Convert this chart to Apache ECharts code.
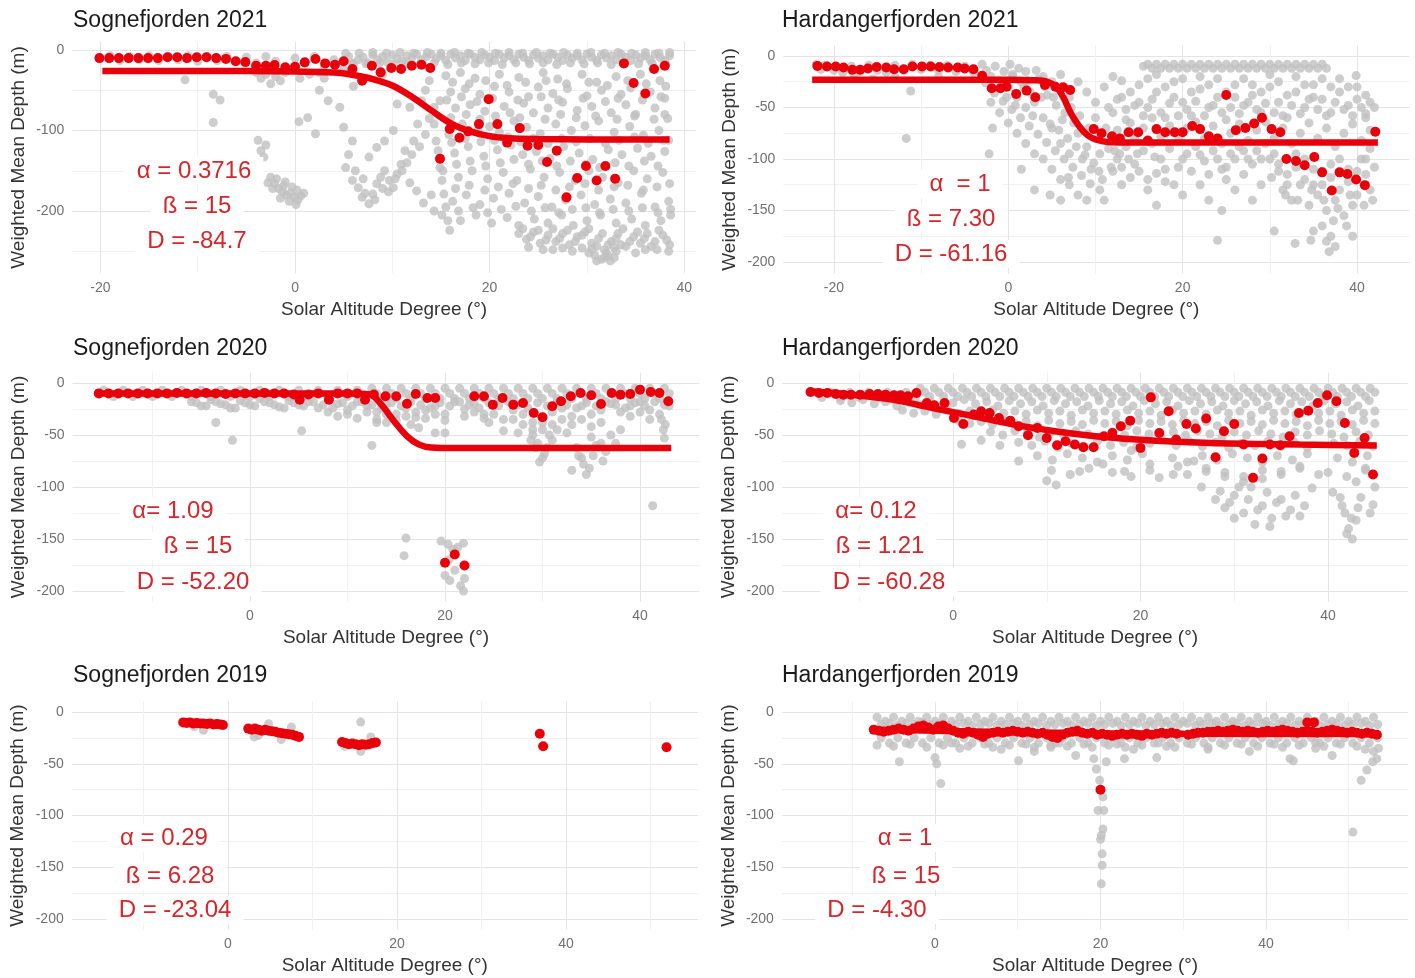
<!DOCTYPE html>
<html>
<head>
<meta charset="utf-8">
<script src="https://cdn.jsdelivr.net/npm/echarts@6/dist/echarts.min.js"></script>
<style>
html,body{margin:0;padding:0;background:#fff;}
#chart{width:1415px;height:978px;}
</style>
</head>
<body>
<div id="chart"></div>
<script>
// ---------- Panel titles and fitted parameters ----------
const panelTitles = ['Sognefjorden 2021', 'Hardangerfjorden 2021', 'Sognefjorden 2020',
                     'Hardangerfjorden 2020', 'Sognefjorden 2019', 'Hardangerfjorden 2019'];
const paramTexts = [
  ['α = 0.3716', 'ß = 15', 'D = -84.7'],
  ['α  = 1', 'ß = 7.30', 'D = -61.16'],
  ['α= 1.09', 'ß = 15', 'D = -52.20'],
  ['α= 0.12', 'ß = 1.21', 'D = -60.28'],
  ['α = 0.29', 'ß = 6.28', 'D = -23.04'],
  ['α = 1', 'ß = 15', 'D = -4.30']
];

// ---------- Tick values ----------
const xTicksWide = [-20, 0, 20, 40];
const xMinorWide = [-10, 10, 30];
const xTicksShort = [0, 20, 40];
const xMinorShort = [-10, 10, 30];
const xMinorLong = [-10, 10, 30, 50];
const yTicksDeep = [0, -100, -200];
const yMinorDeep = [-50, -150, -250];
const yTicksStd = [0, -50, -100, -150, -200];
const yMinorStd = [-25, -75, -125, -175];

// ---------- Sognefjorden 2021 ----------
const sogne21Grey = [
  [-19,-7],[-18,-13],[-17,-8],[-16,-12],[-15,-7],[-14,-13],[-13,-8],[-12,-12],[-11,-7],[-10,-14],[-9,-8],[-8,-13],[-7,-8],[-6,-14],[-5,-9],[-4,-16],[-3,-8],[-2,-14],[-1,-22],[0,-10],[1,-16],[2,-8],[3,-20],[4,-12],[5,-24],
  [5.5,-8],[6,-18],[6.5,-12],[7,-9],[7.5,-16],[8,-6],[8.5,-12],[9,-8],[9.5,-15],[10,-6],[10.5,-11],[11,-14],[11.5,-7],[12,-10],[12.5,-5],[13,-12],[13.5,-8],[14,-5],[14.5,-11],[15,-7],[15.5,-13],[16,-5],[16.5,-10],[17,-7],[17.5,-13],[18,-5],[18.5,-9],[19,-12],[19.5,-6],[20,-9],[20.5,-13],[21,-5],[21.5,-10],[22,-7],[22.5,-12],[23,-5],[23.5,-9],[24,-13],[24.5,-6],[25,-10],[25.5,-7],[26,-12],[26.5,-5],[27,-9],[27.5,-13],[28,-6],[28.5,-10],[29,-7],[29.5,-12],[30,-5],[30.5,-9],[31,-13],[31.5,-6],[32,-10],[32.5,-7],[33,-12],[33.5,-5],[34,-9],[34.5,-13],[35,-6],[35.5,-10],[36,-7],[36.5,-12],[37,-5],[37.5,-9],[38,-13],[38.5,-7],
  [5.2,-4],[6.6,-4],[8,-3],[9.4,-4],[10.8,-3],[12.2,-4],[13.6,-3],[15,-4],[16.4,-3],[17.8,-4],[19.2,-3],[20.6,-4],[22,-3],[23.4,-4],[24.8,-3],[26.2,-4],[27.6,-3],[29,-4],[30.4,-3],[31.8,-4],[33.2,-3],[34.6,-4],[36,-3],[37.4,-4],[38.5,-3],
  [5.9,-16],[7.3,-17],[8.7,-16],[10.1,-18],[11.5,-16],[12.9,-17],[14.3,-16],[15.7,-18],[17.1,-16],[18.5,-17],[19.9,-16],[21.3,-18],[22.7,-16],[24.1,-17],[25.5,-16],[26.9,-18],[28.3,-16],[29.7,-17],[31.1,-16],[32.5,-18],[33.9,-16],[35.3,-17],[36.7,-16],[38.1,-18],
  [-4,-28],[-3.5,-35],[-3,-30],[-2.5,-42],[-2,-33],[-1.5,-38],[-1,-28],[0.5,-35],[1.5,-30],[2.5,-28],
  [-11.3,-37],[-8.4,-55],[-8.4,-90],[-7.7,-62],[-3.8,-112],[-3.5,-125],[-3.2,-133],[-3,-118],[-2.5,-158],[-2.1,-166],[-1.7,-172],[-1.3,-176],[-0.9,-180],[-0.5,-178],[-0.1,-183],[0.3,-186],[0.6,-181],[-2.3,-172],[-1.2,-169],
  [-2.8,-165],[-1.9,-160],[-1,-164],[-0.3,-170],[0.2,-174],[0.9,-178],[-1.5,-184],[-0.6,-188],[0.1,-192],
  [0.4,-89],[1.3,-84],[2.1,-104],[2.5,-50],[3.4,-63],[4.6,-71],[5,-96],[5.9,-113],[5.2,-146],[5.9,-162],[6.5,-171],[6.9,-183],[7.6,-191],[8,-179],[8.4,-166],[8.8,-158],[9.2,-150],[9.7,-162],[10.1,-171],[10.5,-154],[10.9,-142],[7.6,-133],[8.4,-121],[9.2,-113],[10.1,-100],[11.3,-125],[12.2,-113],[12.6,-92],[11.8,-71],[10.5,-67],[13,-63],[13.4,-50],[13.8,-38],[3,-35],[6,-45],[9,-30],
  [5.5,-130],[6.2,-150],[7,-160],[7.2,-178],[8.2,-186],[9,-172],[9.6,-176],[10.3,-160],[11,-150],[11.5,-140],[12,-130],[12.8,-120],[13.4,-105],[13.8,-85],[14,-180],[13.2,-190],[12.5,-175],[11.8,-165],
  [14.3,-92],[14.5,-113],[14.7,-125],[14.9,-146],[15.1,-162],[15.3,-179],[15.5,-195],[15.7,-212],[15.9,-224],[14.3,-71],[14.9,-63],[14.3,-200],[15.1,-205],
  [15.5,-32],[17,-28],[18.5,-35],[21,-30],[23,-34],[25.5,-28],[27,-36],[29.5,-30],[31,-40],[33,-33],[35.5,-30],[37.5,-38],
  [16.2,-40],[17.9,-42],[19.6,-38],[21.8,-44],[23.7,-40],[25.8,-38],[27.9,-42],[30.2,-40],[32.1,-44],[34.2,-38],[36.1,-42],[38.1,-45],
  [16,-52],[17.5,-48],[19,-55],[20.5,-45],[22,-52],[24,-58],[25,-46],[26.5,-54],[28,-48],[30,-57],[31.5,-50],[33.5,-55],[34.5,-47],[36.5,-52],[38,-60],
  [15.6,-62],[17.1,-58],[18.7,-64],[20.3,-60],[22.9,-62],[25.3,-58],[27.1,-62],[29.6,-60],[31.9,-64],[33.2,-60],[35.7,-62],[37.6,-58],
  [16.5,-72],[18,-68],[19.5,-76],[21.5,-70],[23.5,-66],[24.5,-78],[26,-72],[27.5,-65],[29,-75],[30.5,-70],[32.5,-78],[34,-68],[35,-80],[37,-72],[38.3,-85],
  [16,-84],[17.6,-80],[19,-86],[20.6,-82],[22.1,-78],[23.1,-84],[25.7,-86],[27.3,-80],[28.9,-84],[30.9,-82],[33.1,-86],[34.9,-82],[36.9,-86],[38,-80],
  [15.8,-105],[17.2,-92],[18.8,-100],[20,-95],[21,-102],[22.5,-88],[23.8,-96],[25.2,-104],[26.8,-92],[28.4,-100],[29.8,-94],[31.2,-88],[32.8,-102],[34.4,-95],[35.8,-106],[37.4,-100],[38.4,-112],
  [16.1,-115],[17.5,-110],[19.1,-114],[20.5,-112],[21.9,-108],[23.2,-114],[24.5,-110],[26,-116],[27.4,-110],[28.9,-114],[30.3,-110],[31.9,-116],[33.3,-112],[34.9,-108],[36.3,-116],[37.9,-112],
  [16.4,-128],[17.8,-120],[19.4,-132],[20.8,-124],[22.2,-118],[23.4,-130],[24.8,-126],[26.2,-135],[27.6,-120],[29.2,-128],[30.6,-136],[32.2,-124],[33.6,-130],[35.2,-122],[36.6,-132],[38,-126],
  [16.6,-142],[18,-138],[19.6,-144],[21.1,-140],[22.5,-136],[24,-142],[25.4,-138],[26.9,-144],[28.3,-138],[29.9,-142],[31.3,-146],[32.9,-140],[34.3,-144],[35.9,-138],[37.3,-144],
  [15.2,-150],[16.8,-158],[18.2,-150],[19.8,-160],[21.4,-152],[22.8,-162],[24.2,-148],[25.6,-158],[27.2,-152],[28.8,-162],[30.2,-150],[31.6,-158],[33.2,-165],[34.8,-150],[36.2,-160],[37.8,-152],
  [16.5,-172],[17.9,-168],[19.5,-174],[20.9,-170],[22.4,-166],[24,-172],[25.3,-168],[26.8,-174],[28.2,-170],[29.8,-166],[31.2,-174],[32.8,-170],[34.2,-168],[35.8,-174],[37.2,-170],[38.5,-166],
  [16.2,-188],[17.6,-180],[19,-192],[20.4,-184],[22,-178],[23.6,-190],[25,-182],[26.4,-195],[27.8,-186],[29.4,-180],[30.8,-192],[32.4,-185],[34,-190],[35.6,-178],[37,-195],[38.4,-188],
  [16.8,-200],[18.3,-196],[19.8,-202],[21.2,-198],[22.7,-194],[24.3,-200],[25.7,-196],[27.1,-202],[28.5,-198],[29.9,-196],[31.3,-202],[32.7,-198],[34.3,-200],[35.7,-196],[37.3,-202],[38.6,-198],
  [17,-212],[18.6,-205],[20.2,-215],[21.8,-208],[23,-218],[24.6,-210],[26,-215],[27.4,-205],[28.6,-218],[30,-212],[31.4,-205],[33,-215],[34.6,-210],[36,-218],[37.6,-212],[38.6,-205],
  [23,-228],[23.8,-235],[24.5,-226],[25.2,-240],[26,-230],[26.8,-238],[27.5,-228],[28.2,-242],[29,-232],[29.8,-226],[30.5,-240],[31.2,-234],[31.8,-248],[32.5,-238],[33.2,-228],[34,-244],[34.8,-232],[35.5,-240],[36.2,-228],[37,-238],[37.8,-230],[38.5,-242],[24,-245],[26.5,-248],[28.5,-250],[30.8,-255],[31.5,-260],[32.2,-256],[33,-250],[35,-252],[37.2,-248],
  [23.4,-222],[24.2,-232],[25,-224],[25.8,-236],[26.5,-222],[27.2,-234],[28,-224],[28.8,-238],[29.5,-230],[30.2,-222],[31,-244],[31.6,-228],[32.2,-242],[33,-234],[33.7,-222],[34.4,-238],[35.2,-226],[35.9,-234],[36.6,-244],[37.4,-224],[38.2,-236],[29.5,-246],[30.2,-252],[32,-252],[32.8,-258],[33.5,-242],[27.5,-246],[25.5,-248],[36,-248],[38.4,-250],
  [30.5,-247],[31,-262],[31.8,-258],[32.4,-262],[32.8,-245]
];
const sogne21Red = [
  [-20.1,-10],[-19.1,-10],[-18.1,-10],[-17.1,-10],[-16.1,-10],[-15.1,-10],[-14.1,-10],[-13.1,-9],[-12.1,-9],[-11.1,-10],[-10.1,-9],[-9.1,-9],[-8.1,-10],[-7.1,-11],
  [-6.1,-14],[-5.1,-15],[-4,-19.5],[-3,-19.5],[-2.1,-18.6],[-1,-21.5],[0,-20.7],[1,-15.3],[2.1,-11.2],[3.1,-16.6],[4.1,-18.2],[5,-14],[5.9,-23.6],[6.9,-38],[7.9,-19.5],[8.8,-27.7],[9.9,-22.4],[10.9,-23.6],[12,-19.5],[13,-18.2],[13.9,-22.4],
  [14.9,-135],[15.9,-98],[16.9,-109],[17.8,-101],[18.9,-92],[19.9,-61],[20.8,-92],[21.8,-115],[23.1,-97],[23.9,-119],[25,-118],[25.9,-139],[26.9,-125],[27.9,-183],[29,-159],[29.9,-144],[31,-162],[31.9,-144],[32.9,-160],[33.8,-16.6],[34.8,-41],[36,-54],[36.9,-23.6],[38,-19.5]
];
const sogne21Fit = [
  [-19.8,-26],[-10,-26],[0,-26.5],[4,-28],[6,-31],[8,-36],[10,-44],[12,-58],[14,-75],[16,-91],[18,-101],[20,-107],[22,-109.5],[25,-110.5],[30,-111],[38.5,-111]
];

// ---------- Hardangerfjorden 2021 ----------
const hard21Grey = [
  [-22,-8],[-21.5,-13],[-21,-9],[-20,-14],[-19,-16],[-18,-10],[-17,-15],[-16,-9],[-15,-14],[-14,-16],[-13,-9],[-12,-14],[-11,-8],[-10,-13],[-9,-9],[-8,-14],[-7,-9],[-6,-15],[-5,-10],[-4,-16],[-17.7,-18],[-11.2,-34],[-11.7,-80],[-15.5,-22],[-13,-20],[-8,-20],
  [-3,-8],[-2.5,-14],[-2,-20],[-1.5,-10],[-1,-24],[-0.5,-15],[0,-30],[0.5,-18],[1,-40],[1.5,-25],[2,-50],[2.5,-35],[3,-45],[3.5,-22],[4,-60],[4.5,-38],[5,-70],[5.5,-48],[6,-85],[6.5,-55],[7,-95],[7.5,-65],[8,-75],[8.5,-100],[9,-88],[9.5,-110],[10,-60],[10.5,-95],
  [-2,-45],[-1,-55],[0,-65],[1,-75],[2,-85],[3,-95],[4,-100],[5,-110],[6,-120],[7,-125],[8,-135],[1.5,-110],[3,-130],[6,-140],[0.5,-20],[2,-15],[4,-20],[6,-18],[8,-25],[9,-35],[10,-45],[5,-25],[7,-40],[-2.2,-95],[-1.8,-70],[9,-140],[10.5,-130],[6.9,-118],[4.8,-135],
  [-2.6,-26],[-1.6,-36],[-0.6,-44],[0.4,-52],[1.4,-60],[2.4,-68],[3.4,-76],[4.4,-84],[5.4,-92],[6.4,-100],[7.4,-108],[8.4,-116],[9.4,-124],[10.4,-112],
  [-0.2,-40],[0.8,-48],[1.8,-30],[2.8,-58],[3.8,-40],[4.8,-66],[5.8,-72],[6.8,-80],[7.8,-88],[8.8,-96],[9.8,-104],[10.8,-120],[11.8,-108],
  [0.2,-8],[1.2,-12],[2.2,-24],[3.2,-14],[4.2,-30],[5.2,-40],[6.2,-62],[7.2,-50],[8.2,-58],[9.2,-70],[10.2,-80],[11.2,-70],[12.2,-92],
  [15.5,-10],[16,-8],[16.5,-12],[17,-8],[17.5,-12],[18,-8],[18.5,-12],[19,-8],[19.5,-12],[20,-8],[20.5,-12],[21,-8],[21.5,-12],[22,-8],[22.5,-12],[23,-8],[23.5,-12],[24,-8],[24.5,-12],[25,-8],[25.5,-12],[26,-8],[26.5,-12],[27,-8],[27.5,-12],[28,-8],[28.5,-12],[29,-8],[29.5,-12],[30,-8],[30.5,-12],[31,-8],[31.5,-12],[32,-8],[32.5,-12],[33,-8],[33.5,-12],[34,-8],[34.5,-12],[35,-8],[35.5,-12],[36,-8],[36.5,-12],
  [12,-20],[13,-24],[14,-35],[15,-45],[16,-22],[17,-18],[18,-30],[19,-40],[20,-22],[21,-35],[22,-20],[23,-28],[24,-22],[25,-35],[26,-40],[27,-22],[28,-28],[29,-35],[30,-18],[31,-25],[32,-38],[33,-20],[34,-28],[35,-40],[36,-22],[37,-30],[38,-22],[39,-30],[40,-42],[41,-38],[42,-50],
  [11,-30],[12,-55],[13,-40],[14,-65],[15,-28],[16,-50],[17,-35],[18,-60],[19,-25],[20,-45],[21,-58],[22,-32],[23,-50],[24,-40],[25,-62],[26,-28],[27,-48],[28,-38],[29,-55],[30,-30],[31,-45],[32,-60],[33,-35],[34,-50],[35,-28],[36,-42],[37,-55],[38,-35],[39,-48],[40,-30],[41,-60],
  [11.5,-50],[12.5,-42],[13.5,-52],[14.5,-48],[15.5,-58],[16.5,-42],[17.5,-55],[18.5,-46],[19.5,-58],[20.5,-52],[21.5,-44],[22.5,-58],[23.5,-48],[24.5,-55],[25.5,-50],[26.5,-56],[27.5,-45],[28.5,-52],[29.5,-46],[30.5,-55],[31.5,-58],[32.5,-48],[33.5,-56],[34.5,-42],[35.5,-52],[36.5,-58],[37.5,-45],[38.5,-52],[39.5,-58],[40.5,-50],[41.5,-45],
  [12.5,-72],[13.5,-62],[14.5,-80],[15.5,-70],[16.5,-60],[17.5,-78],[18.5,-68],[19.5,-82],[20.5,-70],[21.5,-64],[22.5,-80],[23.5,-68],[24.5,-85],[25.5,-75],[26.5,-66],[27.5,-82],[28.5,-72],[29.5,-64],[30.5,-80],[31.5,-70],[32.5,-85],[33.5,-75],[34.5,-65],[35.5,-80],[36.5,-70],[37.5,-88],[38.5,-75],[39.5,-66],[40.5,-82],[41.5,-72],
  [11.5,-90],[12.5,-100],[13.5,-88],[14.5,-105],[15.5,-92],[16.5,-85],[17.5,-100],[18.5,-90],[19.5,-108],[20.5,-95],[21.5,-88],[22.5,-102],[23.5,-92],[24.5,-110],[25.5,-95],[26.5,-88],[27.5,-100],[28.5,-92],[29.5,-85],[30.5,-95],
  [12,-112],[13,-108],[14,-118],[15,-112],[16,-120],[17,-114],[18,-122],[20,-100],[21,-112],[22,-96],[23,-115],[24,-100],[25,-108],[26,-100],[27,-92],[28,-105],[29,-100],[18,-110],[16.8,-98],[14.8,-95],[13.8,-100],[12.8,-95],
  [31,-105],[32,-115],[33,-95],[34,-120],[35,-110],[36,-125],[37,-105],[38,-130],[39,-110],[40,-135],[41,-115],[31.5,-130],[32.5,-140],[33.5,-125],[34.5,-145],[35.5,-135],[36.5,-150],[37.5,-140],[38.5,-155],[39.5,-145],[40.5,-100],[41.5,-90],[41.5,-130],[36,-165],[37,-175],[37.5,-185],[36.5,-180],[35,-170],
  [30,-100],[31,-112],[32,-125],[33,-108],[34,-100],[35,-125],[36,-112],[37,-118],[38,-100],[39,-122],[40,-112],[41,-100],[42,-108],[30.2,-118],[31.8,-135],[33.2,-140],[34.8,-130],[36.2,-140],[37.8,-148],[39.2,-135],[40.8,-145],[41.8,-140],[38.8,-165],[37.3,-160],[39.5,-175],[36.8,-190],
  [24,-179],[30.5,-170],[32.9,-182],[34.7,-179],[22,-125],[23,-140],[24.5,-150],[26,-130],[28,-140],[13,-125],[16,-130],[19,-125],[25,-120],[27,-115],[29,-125],[11,-140],[17,-145],[20,-135],[39.9,-19],[41,-56]
];
const hard21Red = [
  [-21.9,-9.6],[-20.8,-10.2],[-19.8,-10.2],[-18.9,-11.2],[-17.9,-13.4],[-17,-13.4],[-16.1,-12.2],[-15.1,-10.6],[-14,-11.2],[-13.1,-12.8],[-12,-12.8],[-11,-10.2],[-9.9,-10.2],[-8.9,-10.2],[-7.9,-10.6],[-6.9,-11.2],[-5.8,-11.2],[-5,-12.2],[-4,-12.8],[-3,-19.2],
  [-1.9,-31.4],[-0.9,-31.4],[-0.2,-29.8],[0.9,-36.8],[2.1,-33.6],[3.1,-40],[4.2,-28.2],[5.4,-29.8],[6.3,-30.4],[7.1,-33],
  [9.8,-71],[10.7,-75],[11.9,-78],[12.8,-80],[13.8,-74],[14.9,-74],[16,-82],[17,-71],[18,-74],[19.1,-74],[20,-74],[21.1,-68],[22,-71],[23,-78],[24,-80],[25,-37.8],[26.1,-72],[27.2,-70],[28.2,-65.6],[29.1,-60],[30.2,-71],[31.2,-74],
  [31.9,-100],[33,-102],[34,-106],[35.1,-98],[36,-113],[37.1,-130.6],[38,-113],[38.9,-114.6],[39.9,-120],[40.9,-125.4],[42.1,-73.6]
];
const hard21Fit = [
  [-22.5,-23],[-10,-23],[0,-23],[3,-23.5],[4.5,-25],[5.5,-30],[6.3,-40],[7.2,-56],[8.2,-69],[9.1,-77],[10,-81],[11.4,-83.5],[14,-84],[42.4,-84]
];

// ---------- Sognefjorden 2020 ----------
const sogne20Grey = [
  [-15,-7],[-14,-13],[-13,-7],[-12,-13],[-11,-7],[-10,-13],[-9,-7],[-8,-13],[-7,-7],[-6,-13],[-5,-7],[-4,-13],[-3,-7],[-2,-13],[-1,-7],[0,-13],[1,-7],[2,-13],[3,-7],[4,-13],[5,-7],[6,-13],[7,-7],[8,-13],[9,-7],[10,-13],[11,-7],[12,-13],
  [12.5,-5],[13,-10],[13.5,-15],[14,-5],[14.5,-10],[15,-15],[15.5,-5],[16,-10],[16.5,-15],[17,-5],[17.5,-10],[18,-15],[18.5,-5],[19,-10],[19.5,-15],[20,-5],[20.5,-10],[21,-15],[21.5,-5],[22,-10],[22.5,-15],[23,-5],[23.5,-10],[24,-15],[24.5,-5],[25,-10],[25.5,-15],[26,-5],[26.5,-10],[27,-15],[27.5,-5],[28,-10],[28.5,-15],[29,-5],[29.5,-10],[30,-15],[30.5,-5],[31,-10],[31.5,-15],[32,-5],[32.5,-10],[33,-15],[33.5,-5],[34,-10],[34.5,-15],[35,-5],[35.5,-10],[36,-15],[36.5,-5],[37,-10],[37.5,-15],[38,-5],[38.5,-10],[39,-15],[39.5,-5],[40,-10],[40.5,-15],[41,-5],[41.5,-10],[42,-15],[42.5,-5],[43,-10],
  [-6,-18],[-5,-22],[-4,-16],[-3,-20],[-2,-24],[-1,-17],[0,-21],[1,-15],[2,-19],[3,-23],[4,-17],[5,-21],[6,-18],[7,-24],[8,-16],[9,-20],[10,-26],[11,-18],[12,-22],[13,-28],[14,-20],[15,-30],[16,-24],[17,-33],[18,-26],[19,-22],[20,-30],[21,-18],[22,-25],[23,-20],[24,-30],[25,-22],[26,-35],[27,-26],[28,-40],[29,-45],[30,-38],[31,-28],[32,-24],[33,-32],[34,-22],[35,-30],[36,-26],[37,-20],[38,-28],[39,-22],[40,-18],[41,-26],[42,-30],[43,-22],
  [-5.5,-19],[-4.5,-22],[-3.5,-18],[-2.5,-21],[-1.5,-24],[-0.5,-19],[0.5,-22],[1.5,-18],[2.5,-21],[3.5,-24],[4.5,-19],[5.5,-22],[6.5,-18],[7.5,-21],[8.5,-24],[9.5,-19],[10.5,-22],[11.5,-18],[12.5,-21],[13.5,-24],[14.5,-19],[15.5,-22],[16.5,-18],[17.5,-21],[18.5,-24],[19.5,-19],[20.5,-22],[21.5,-18],[22.5,-21],[23.5,-24],[24.5,-19],[25.5,-22],[26.5,-18],[27.5,-21],[28.5,-24],[29.5,-19],[30.5,-22],[31.5,-18],[32.5,-21],[33.5,-24],[34.5,-19],[35.5,-22],[36.5,-18],[37.5,-21],[38.5,-24],[39.5,-19],[40.5,-22],[41.5,-18],[42.5,-21],
  [8,-28],[9,-32],[10,-30],[11,-34],[12,-28],[13,-38],[14,-30],[15,-36],[16,-32],[17,-28],[18,-34],[19,-30],[20,-36],[22,-32],[23,-28],[24,-34],[25,-30],[27,-35],[28,-30],[29,-38],[30,-45],[31,-40],[32,-35],[33,-40],[34,-35],[35,-42],[36,-38],[39,-32],[40,-28],[41,-35],
  [29,-50],[29.5,-58],[30,-72],[30.5,-62],[31,-55],[32.5,-48],[33.5,-62],[34,-72],[34.8,-82],[35,-52],[36,-58],[37,-50],[38,-45],[35.2,-70],[36.2,-75],
  [28.8,-55],[29.3,-62],[29.7,-76],[30.2,-68],[30.7,-50],[33,-84],[33.7,-70],[34.2,-78],[34.5,-88],[35.5,-60],[36.5,-66],[37.5,-58],[42.2,-35],[42.4,-45],[42.5,-53],[42.6,-40],[31.5,-45],[27.5,-48],[26,-46],[24.5,-38],[14,-38],[16.5,-40],[13,-35],[-3.5,-38],[-1.8,-55],[5.3,-46],[12.5,-60],[17.3,-43],[19,-48],[20,-48],[41.3,-118],
  [16,-149],[15.8,-166],[19.6,-152],[20.3,-155],[20.8,-160],[21.3,-158],[21.9,-154],[20,-185],[20.5,-190],[21,-180],[21.6,-195],[21.9,-200],[22,-188],[20.4,-170]
];
const sogne20Red = [
  [-15.5,-10],[-14.5,-10],[-13.5,-10],[-12.5,-10],[-11.5,-10],[-10.5,-10],[-9.5,-10],[-8.5,-10],[-7.5,-9.5],[-6.5,-10],[-5.5,-10],[-4.5,-9.5],[-3.5,-10],[-2.5,-10.5],[-1.5,-10],[-0.5,-10],[0.5,-10],[1.5,-9.5],[2.5,-10],[3.5,-10],[4.5,-11],[5.1,-16],[6,-11],[7,-10],[8.1,-16],[9,-10],[10,-10],[11,-10],[11.8,-16],
  [12.7,-11],[13.9,-12.8],[15,-12.8],[16.1,-20],[17,-10.6],[18.2,-14.4],[19,-14.4],
  [23,-12.8],[24,-12.8],[24.9,-20.8],[25.9,-14.4],[27,-20.8],[28,-19.2],[29.1,-28.8],[30,-33],[31,-22.4],[31.9,-17.6],[32.9,-12.8],[33.9,-9.6],[35,-11.8],[36,-20.2],[37.1,-9.6],[38,-11.2],[39,-10.6],[40,-6.4],[41.1,-8.6],[42,-9.6],[42.9,-17.6],
  [20,-172.8],[21,-164.8],[22,-175.4]
];
const sogne20Fit = [
  [-15.5,-10],[0,-10],[10,-10],[12.3,-11],[13.5,-21],[14.8,-37],[16.1,-51],[17.3,-59],[18.6,-62],[21,-62.5],[43.2,-62.5]
];

// ---------- Hardangerfjorden 2020 ----------
const hard20Grey = [
  [-15,-9],[-14,-14],[-13,-9],[-12,-14],[-11,-9],[-10,-14],[-9,-9],[-8,-14],[-7,-9],[-6,-14],[-5,-9],[-4,-14],
  [-3.5,-5],[-3,-9],[-2.5,-13],[-2,-5],[-1.5,-9],[-1,-13],[-0.5,-5],[0,-9],[0.5,-13],[1,-5],[1.5,-9],[2,-13],[2.5,-5],[3,-9],[3.5,-13],[4,-5],[4.5,-9],[5,-13],[5.5,-5],[6,-9],[6.5,-13],[7,-5],[7.5,-9],[8,-13],[8.5,-5],[9,-9],[9.5,-13],[10,-5],[10.5,-9],[11,-13],[11.5,-5],[12,-9],[12.5,-13],[13,-5],[13.5,-9],[14,-13],[14.5,-5],[15,-9],[15.5,-13],[16,-5],[16.5,-9],[17,-13],[17.5,-5],[18,-9],[18.5,-13],[19,-5],[19.5,-9],[20,-13],[20.5,-5],[21,-9],[21.5,-13],[22,-5],[22.5,-9],[23,-13],[23.5,-5],[24,-9],[24.5,-13],[25,-5],[25.5,-9],[26,-13],[26.5,-5],[27,-9],[27.5,-13],[28,-5],[28.5,-9],[29,-13],[29.5,-5],[30,-9],[30.5,-13],[31,-5],[31.5,-9],[32,-13],[32.5,-5],[33,-9],[33.5,-13],[34,-5],[34.5,-9],[35,-13],[35.5,-5],[36,-9],[36.5,-13],[37,-5],[37.5,-9],[38,-13],[38.5,-5],[39,-9],[39.5,-13],[40,-5],[40.5,-9],[41,-13],[41.5,-5],[42,-9],[42.5,-13],[43,-5],[43.5,-9],[44,-13],[44.5,-5],[45,-9],
  [-12,-17],[-10.8,-19],[-9.6,-16],[-8.4,-20],[-7.2,-18],[-6,-22],[-4.8,-17],[-3.6,-21],[-2.4,-18],[-1.2,-22],[0,-19],[1.2,-16],[2.4,-20],[3.6,-18],[4.8,-22],[6,-17],[7.2,-20],[8.4,-18],[9.6,-22],[10.8,-17],[12,-20],[13.2,-18],[14.4,-22],[15.6,-17],[16.8,-20],[18,-18],[19.2,-22],[20.4,-17],[21.6,-20],[22.8,-18],[24,-22],[25.2,-17],[26.4,-20],[27.6,-18],[28.8,-22],[30,-17],[31.2,-20],[32.4,-18],[33.6,-22],[34.8,-17],[36,-20],[37.2,-18],[38.4,-22],[39.6,-17],[40.8,-20],[42,-18],[43.2,-22],[44.4,-17],
  [-5.4,-26],[-4.2,-29],[-3,-27],[-1.8,-30],[-0.6,-26],[0.6,-29],[1.8,-27],[3,-31],[4.2,-26],[5.4,-29],[6.6,-27],[7.8,-30],[9,-26],[10.2,-29],[11.4,-27],[12.6,-31],[13.8,-26],[15,-29],[16.2,-27],[17.4,-30],[18.6,-26],[19.8,-29],[21,-27],[22.2,-31],[23.4,-26],[24.6,-29],[25.8,-27],[27,-30],[28.2,-26],[29.4,-29],[30.6,-27],[31.8,-31],[33,-26],[34.2,-29],[35.4,-27],[36.6,-30],[37.8,-26],[39,-29],[40.2,-27],[41.4,-31],[42.6,-26],[43.8,-29],[45,-27],
  [0.6,-36],[1.8,-39],[3,-37],[4.2,-40],[5.4,-36],[6.6,-39],[7.8,-37],[9,-41],[10.2,-36],[11.4,-39],[12.6,-37],[13.8,-40],[15,-36],[16.2,-39],[17.4,-37],[18.6,-41],[19.8,-36],[21,-39],[22.2,-37],[23.4,-40],[24.6,-36],[25.8,-39],[27,-37],[28.2,-41],[29.4,-36],[30.6,-39],[31.8,-37],[33,-40],[34.2,-36],[35.4,-39],[36.6,-37],[37.8,-41],[39,-36],[40.2,-39],[41.4,-37],[42.6,-40],[43.8,-36],[45,-39],
  [4,-47],[5.3,-50],[6.6,-46],[7.9,-49],[9.2,-52],[10.5,-47],[11.8,-50],[13.1,-46],[14.4,-49],[15.7,-52],[17,-47],[18.3,-50],[19.6,-46],[20.9,-49],[22.2,-52],[23.5,-47],[24.8,-50],[26.1,-46],[27.4,-49],[28.7,-52],[30,-47],[31.3,-50],[32.6,-46],[33.9,-49],[35.2,-52],[36.5,-47],[37.8,-50],[39.1,-46],[40.4,-49],[41.7,-52],[43,-47],[44.3,-50],
  [7,-57],[8.4,-60],[9.8,-56],[11.2,-62],[12.6,-58],[14,-61],[15.4,-56],[16.8,-60],[18.2,-57],[19.6,-62],[21,-58],[23.8,-60],[25.2,-56],[26.6,-61],[28,-57],[29.4,-62],[30.8,-58],[32.2,-60],[33.6,-56],[35,-61],[36.4,-57],[37.8,-62],[40.6,-58],[42,-60],[43.4,-56],[44.8,-61],
  [9,-70],[10.6,-74],[12.2,-68],[13.8,-72],[15.4,-76],[17,-70],[18.6,-74],[20.2,-68],[23.4,-72],[25,-76],[26.6,-70],[28.2,-74],[29.8,-68],[31.4,-72],[33,-76],[34.6,-70],[36.2,-74],[37.8,-68],[41,-72],[42.6,-76],[44.2,-70],
  [10.5,-84],[12.5,-88],[14.5,-82],[17,-86],[19,-90],[21,-84],[25,-88],[27,-82],[29,-86],[31,-90],[33,-84],[35,-88],[37,-82],[40,-86],[42,-90],[44,-84],
  [0.9,-59],[7,-75],[10,-94],[11,-98],[13.5,-85],[16,-78],[18.3,-85],[22,-91],[23.5,-88],[25.7,-75],[26.5,-100],[28,-112],[29,-120],[30,-108],[31,-125],[32.2,-136],[33,-118],[34,-130],[35,-112],[36,-122],[37,-128],[38.3,-101],[41.3,-110],[41.8,-125],[42.2,-140],[42.6,-150],[43,-132],[44.8,-117],[45,-100],
  [28.5,-104],[29.5,-115],[30.5,-100],[31.5,-112],[32.5,-122],[33.5,-105],[34.5,-115],[35.5,-128],[36.5,-108],[37.5,-118],[40.5,-105],[41.5,-118],[42.5,-130],[43.5,-110],[44.5,-125],[42,-145],[43.2,-120],[30,-130],[31.8,-100],[33.8,-138],
  [3,-55],[5,-60],[8,-45],[19,-65],[21,-78],[24,-80],[27,-85],[29,-90],[31,-95],[33,-92],[35,-85],[37,-80],[39,-88],[43,-95],[44,-82]
];
const hard20Red = [
  [-15.2,-8.6],[-14.3,-9.6],[-13.4,-9.6],[-12.5,-10.6],[-11.7,-11.2],[-10.9,-11.2],[-9.9,-11.2],[-8.9,-10.6],[-8,-10.6],[-7.2,-11.2],[-6.3,-11.8],[-5.6,-11.8],[-4.8,-12.8],[-3.9,-9.6],
  [-2.8,-19.2],[-2,-21.4],[-0.9,-19.2],[0.1,-33.6],[1.1,-39.4],[2.2,-30.4],[3,-27.2],[3.9,-28.8],[4.9,-33.6],[6.1,-36.2],[7,-41.6],[8,-50.2],[9,-43.2],[10,-52.8],[11.1,-59.8],[12,-56],[13,-59.2],[13.9,-61.8],[15,-61.8],
  [16.1,-51.2],[17,-48],[17.9,-41.6],[18.9,-36.2],[20,-62.4],[21.1,-13.8],[22,-48],[23,-27.2],[23.8,-54.4],[24.9,-39.4],[25.9,-43.8],[27,-34.2],[28,-71.4],[28.9,-46.4],[30,-39.4],[31,-59.2],[32,-91.2],[33,-72.6],[33.8,-59.2],[34.9,-59.8],[35.9,-51.2],[36.9,-28.8],[37.9,-26.6],[38.9,-19.2],[39.9,-11.8],[40.9,-17.6],[41.8,-38.4],[42.8,-67.2],[43.9,-52.8],[44.8,-88]
];
const hard20Fit = [
  [-15.2,-8],[-10.9,-11.2],[-6.5,-16],[-2.2,-24],[2.2,-32],[6.5,-40],[10.9,-46.4],[15.2,-51.2],[19.6,-54.4],[23.9,-56.6],[28.3,-58],[32.6,-58.6],[37,-59.2],[45.2,-60]
];

// ---------- Sognefjorden 2019 ----------
const sogne19Grey = [
  [-2.9,-17.7],[3.6,-22.6],[4.8,-11.3],[7.5,-14.5],[6.3,-26.5],[15.7,-9.7],[15.7,-38],[16.9,-24],[13.8,-33],[3.1,-24],[-4,-14]
];
const sogne19Red = [
  [-5.3,-10],[-4.9,-10.5],[-4.5,-10],[-4.1,-11],[-3.7,-10.5],[-3.3,-11],[-2.9,-11],[-2.5,-11.5],[-2.1,-11],[-1.7,-12],[-1.3,-11.5],[-0.9,-12],[-0.6,-12.5],
  [2.4,-16],[2.8,-17],[3.2,-16],[3.6,-17],[4,-18],[4.4,-17],[4.8,-18],[5.2,-18.5],[5.6,-19],[6,-20],[6.4,-20.5],[6.8,-21],[7.2,-21.5],[7.6,-22],[8,-23],[8.4,-24],
  [13.5,-29],[13.9,-30],[14.3,-31],[14.7,-30.5],[15.1,-31],[15.5,-32],[15.9,-31],[16.3,-31.5],[16.7,-31],[17.1,-30],[17.5,-29.5],
  [36.9,-21],[37.3,-33],[51.9,-34]
];

// ---------- Hardangerfjorden 2019 ----------
const hard19Grey = [
  [-7,-5],[-6,-9],[-5,-5],[-4,-9],[-3,-5],[-2,-9],[-1,-5],[0,-9],[1,-5],[2,-9],[3,-5],[4,-9],[5,-5],[6,-9],[7,-5],[8,-9],[9,-5],[10,-9],[11,-5],[12,-9],[13,-5],[14,-9],[15,-5],[16,-9],[17,-5],[18,-9],[19,-5],[20,-9],[21,-5],[22,-9],[23,-5],[24,-9],[25,-5],[26,-9],[27,-5],[28,-9],[29,-5],[30,-9],[31,-5],[32,-9],[33,-5],[34,-9],[35,-5],[36,-9],[37,-5],[38,-9],[39,-5],[40,-9],[41,-5],[42,-9],[43,-5],[44,-9],[45,-5],[46,-9],[47,-5],[48,-9],[49,-5],[50,-9],[51,-5],[52,-9],[53,-5],
  [-6.5,-12],[-5.5,-11],[-4.5,-13],[-3.5,-11],[-2.5,-12],[-1.5,-10],[-0.5,-12],[0.5,-11],[1.5,-13],[2.5,-12],[3.5,-11],[4.5,-13],[5.5,-12],[6.5,-11],[7.5,-13],[8.5,-12],[9.5,-11],[10.5,-13],[11.5,-12],[12.5,-11],[13.5,-13],[14.5,-12],[15.5,-11],[16.5,-13],[17.5,-12],[18.5,-11],[19.5,-13],[20.5,-12],[21.5,-11],[22.5,-13],[23.5,-12],[24.5,-11],[25.5,-13],[26.5,-12],[27.5,-11],[28.5,-13],[29.5,-12],[30.5,-11],[31.5,-13],[32.5,-12],[33.5,-11],[34.5,-13],[35.5,-12],[36.5,-11],[37.5,-13],[38.5,-12],[39.5,-11],[40.5,-13],[41.5,-12],[42.5,-11],[43.5,-13],[44.5,-12],[45.5,-11],[46.5,-13],[47.5,-12],[48.5,-11],[49.5,-13],[50.5,-12],[51.5,-11],[52.5,-13],[53.5,-12],
  [-6.5,-25],[-5.5,-30],[-4.5,-25],[-3.5,-30],[-2.5,-25],[-1.5,-30],[-0.5,-25],[0.5,-30],[1.5,-25],[2.5,-30],[3.5,-25],[4.5,-30],[5.5,-25],[6.5,-30],[7.5,-25],[8.5,-30],[9.5,-25],[10.5,-30],[11.5,-25],[12.5,-30],[13.5,-25],[14.5,-30],[15.5,-25],[16.5,-30],[17.5,-25],[18.5,-30],[19.5,-25],[20.5,-30],[21.5,-25],[22.5,-30],[23.5,-25],[24.5,-30],[25.5,-25],[26.5,-30],[27.5,-25],[28.5,-30],[29.5,-25],[30.5,-30],[31.5,-25],[32.5,-30],[33.5,-25],[34.5,-30],[35.5,-25],[36.5,-30],[37.5,-25],[38.5,-30],[39.5,-25],[40.5,-30],[41.5,-25],[42.5,-30],[43.5,-25],[44.5,-30],[45.5,-25],[46.5,-30],[47.5,-25],[48.5,-30],[49.5,-25],[50.5,-30],[51.5,-25],[52.5,-30],[53.5,-25],
  [-7,-32],[-5,-33],[-3,-31],[-1,-34],[1,-32],[2,-30],[4,-33],[6,-31],[7,-34],[9,-32],[11,-31],[12,-34],[14,-32],[15,-30],[16,-33],[18,-31],[19,-34],[21,-32],[22,-31],[23,-34],[25,-32],[27,-30],[28,-33],[31,-31],[33,-34],[35,-32],[37,-31],[39,-33],[41,-31],[42,-34],[44,-32],[46,-30],[47,-33],[49,-31],[51,-33],[52,-36],[53,-38],
  [-4.3,-48],[0,-44],[0.2,-50],[0.7,-69],[10.1,-47],[17,-42],[19.2,-45],[19.5,-55],[20.7,-48],[22.9,-45],[26.8,-44],[19.9,-66],[20.3,-82],[19.7,-95],[20.4,-95],[20.3,-113],[20.1,-119],[20,-123],[20.2,-137],[20.2,-148],[20.1,-166],
  [50.5,-116],[42.9,-45],[43.3,-47],[48,-42],[51.5,-66],[52.2,-56],[52.9,-48],[53.4,-45],[53.6,-35],[8,-36],[12,-38],[24,-36],[33,-36],[38,-38],[46,-35],[3,-35],[14,-34],[29,-34]
];
const hard19Red = [
  [-7.4,-17],[-6.8,-18],[-6.2,-19],[-5.6,-18],[-5,-17],[-4.4,-16],[-3.8,-17],[-3.2,-18],[-2.6,-16],[-2,-14],[-1.4,-13],[-0.8,-15],[-0.2,-17],[0.4,-14],[1,-13],[1.6,-16],[2.2,-18],[2.8,-20],[3.4,-21],[4,-19],[4.6,-20],[5.2,-22],[5.8,-24],[6.4,-21],[7,-20],[7.6,-19],[8.2,-20],[8.8,-19],[9.4,-18],[10,-19],[10.6,-20],[11.2,-19],[11.8,-20],[12.4,-21],[13,-20],[13.6,-22],[14.2,-24],[14.8,-25],[15.4,-22],[16,-20],[16.6,-19],[17.2,-18],[17.8,-20],[18.4,-21],[19,-20],[19.6,-22],[20.2,-21],[20.8,-22],[21.4,-23],[22,-22],[22.6,-21],[23.2,-22],[23.8,-21],[24.4,-22],[25,-23],[25.6,-21],[26.2,-22],[26.8,-21],[27.4,-20],[28,-21],[28.6,-20],[29.2,-21],
  [30.6,-22],[31.2,-21],[31.8,-20],[32.4,-20],[33,-19],[33.6,-19],[34.2,-18],[34.8,-19],[35.4,-18],[36,-17],[36.6,-18],[37.2,-19],[37.8,-18],[38.4,-19],[39,-20],[39.6,-19],[40.2,-18],[40.8,-19],[41.4,-18],[42,-17],[42.6,-18],[43.2,-19],[43.8,-20],[44.4,-19],[45,-18],[45.6,-19],[46.2,-20],[46.8,-19],[47.4,-18],[48,-17],[48.6,-18],[49.2,-19],[49.8,-20],[50.4,-19],[51,-20],[51.6,-21],[52.2,-20],[52.8,-21],[53.4,-22],
  [45,-10],[45.8,-10],[20,-75]
];
const hard19Fit = [
  [-7.4,-17],[0,-18],[10,-19.5],[20,-20.5],[30,-21],[53.7,-21.3]
];

// ---------- Layout ----------
const FONT = '"Liberation Sans", Arial, Helvetica, sans-serif';
const RED = '#e8000b';
const TEXT_RED = '#d7262b';

const panels = [
  { grid: { left: 72.2, top: 42, width: 623.7, height: 231 }, x: [-22.9, 41.2], y: [-277, 10],
    xTicks: xTicksWide, xMinor: xMinorWide, yTicks: yTicksDeep, yMinor: yMinorDeep,
    grey: sogne21Grey, red: sogne21Red, fit: sogne21Fit, title: [73, 9],
    params: [[194, 171], [197, 206], [197, 241]] },
  { grid: { left: 783.4, top: 45.7, width: 625.9, height: 227.6 }, x: [-25.8, 46], y: [-211, 10],
    xTicks: xTicksWide, xMinor: xMinorWide, yTicks: yTicksStd, yMinor: yMinorStd,
    grey: hard21Grey, red: hard21Red, fit: hard21Fit, title: [782, 9],
    params: [[960, 184], [951, 219], [951, 254]] },
  { grid: { left: 72.5, top: 372.6, width: 627, height: 228.8 }, x: [-18.2, 46.1], y: [-210, 10],
    xTicks: xTicksShort, xMinor: xMinorShort, yTicks: yTicksStd, yMinor: yMinorStd,
    grey: sogne20Grey, red: sogne20Red, fit: sogne20Fit, title: [73, 337],
    params: [[173, 511], [198, 546], [193, 582]] },
  { grid: { left: 782.4, top: 372.6, width: 625.3, height: 228.8 }, x: [-18.2, 48.5], y: [-210, 10],
    xTicks: xTicksShort, xMinor: xMinorShort, yTicks: yTicksStd, yMinor: yMinorStd,
    grey: hard20Grey, red: hard20Red, fit: hard20Fit, title: [782, 337],
    params: [[876, 511], [880, 546], [889, 582]] },
  { grid: { left: 71.7, top: 701.7, width: 626.1, height: 227.7 }, x: [-18.5, 55.6], y: [-210, 10],
    xTicks: xTicksShort, xMinor: xMinorLong, yTicks: yTicksStd, yMinor: yMinorStd,
    grey: sogne19Grey, red: sogne19Red, fit: null, title: [73, 664],
    params: [[164, 838], [170, 876], [175, 910]] },
  { grid: { left: 781.9, top: 701.7, width: 626.4, height: 227.7 }, x: [-18.5, 57.2], y: [-210, 10],
    xTicks: xTicksShort, xMinor: xMinorLong, yTicks: yTicksStd, yMinor: yMinorStd,
    grey: hard19Grey, red: hard19Red, fit: hard19Fit, title: [782, 664],
    params: [[905, 838], [906, 876], [877, 910]] }
];

const titles = [], grids = [], xAxes = [], yAxes = [], series = [], graphics = [];

panels.forEach((p, i) => {
  titles.push({
    text: panelTitles[i], left: p.title[0], top: p.title[1], padding: 0,
    textStyle: { fontFamily: FONT, fontSize: 23, fontWeight: 'normal', color: '#1a1a1a' }
  });
  grids.push(Object.assign({ containLabel: false, outerBoundsMode: 'none' }, p.grid));

  // major axes: tick labels, titles and major grid lines
  xAxes.push({
    type: 'value', gridIndex: i, min: p.x[0], max: p.x[1], position: 'bottom',
    name: 'Solar Altitude Degree (°)', nameLocation: 'middle', nameGap: 27,
    nameTextStyle: { fontFamily: FONT, fontSize: 19, color: '#333333' },
    axisLine: { show: false }, axisTick: { show: false, customValues: p.xTicks },
    axisLabel: { customValues: p.xTicks, fontFamily: FONT, fontSize: 14, color: '#707070', margin: 8 },
    splitLine: { show: true, lineStyle: { color: '#e4e4e4', width: 1 } }
  });
  // minor grid lines
  xAxes.push({
    type: 'value', gridIndex: i, min: p.x[0], max: p.x[1], position: 'top',
    axisLine: { show: false }, axisTick: { show: false, customValues: p.xMinor },
    axisLabel: { show: false },
    splitLine: { show: true, lineStyle: { color: '#f1f1f1', width: 1 } }
  });
  yAxes.push({
    type: 'value', gridIndex: i, min: p.y[0], max: p.y[1], position: 'left',
    name: 'Weighted Mean Depth (m)', nameLocation: 'middle', nameGap: 44,
    nameTextStyle: { fontFamily: FONT, fontSize: 19, color: '#333333' },
    axisLine: { show: false }, axisTick: { show: false, customValues: p.yTicks },
    axisLabel: { customValues: p.yTicks, fontFamily: FONT, fontSize: 14, color: '#707070', margin: 8 },
    splitLine: { show: true, lineStyle: { color: '#e4e4e4', width: 1 } }
  });
  yAxes.push({
    type: 'value', gridIndex: i, min: p.y[0], max: p.y[1], position: 'right',
    axisLine: { show: false }, axisTick: { show: false, customValues: p.yMinor },
    axisLabel: { show: false },
    splitLine: { show: true, lineStyle: { color: '#f1f1f1', width: 1 } }
  });

  const xi = 2 * i, yi = 2 * i;
  series.push({
    type: 'scatter', xAxisIndex: xi, yAxisIndex: yi, data: p.grey, symbolSize: 9,
    itemStyle: { color: '#c0c0c0', opacity: 0.8 }, silent: true, z: 2
  });
  if (p.fit) {
    series.push({
      type: 'line', xAxisIndex: xi, yAxisIndex: yi, data: p.fit, showSymbol: false, smooth: 0.35,
      lineStyle: { color: RED, width: 6.5 }, silent: true, z: 3
    });
  }
  series.push({
    type: 'scatter', xAxisIndex: xi, yAxisIndex: yi, data: p.red, symbolSize: 10,
    itemStyle: { color: RED, opacity: 1 }, silent: true, z: 4
  });

  paramTexts[i].forEach((t, j) => {
    graphics.push({
      type: 'text', z: 50, x: p.params[j][0], y: p.params[j][1],
      style: {
        text: t, font: '24px ' + FONT, fill: TEXT_RED, align: 'center', verticalAlign: 'middle',
        backgroundColor: '#ffffff', padding: [2, 12]
      }
    });
  });
});

const chart = echarts.init(document.getElementById('chart'), null, { renderer: 'canvas' });
chart.setOption({
  animation: false,
  backgroundColor: '#ffffff',
  textStyle: { fontFamily: FONT },
  title: titles,
  grid: grids,
  xAxis: xAxes,
  yAxis: yAxes,
  series: series,
  graphic: graphics
});
</script>
</body>
</html>
